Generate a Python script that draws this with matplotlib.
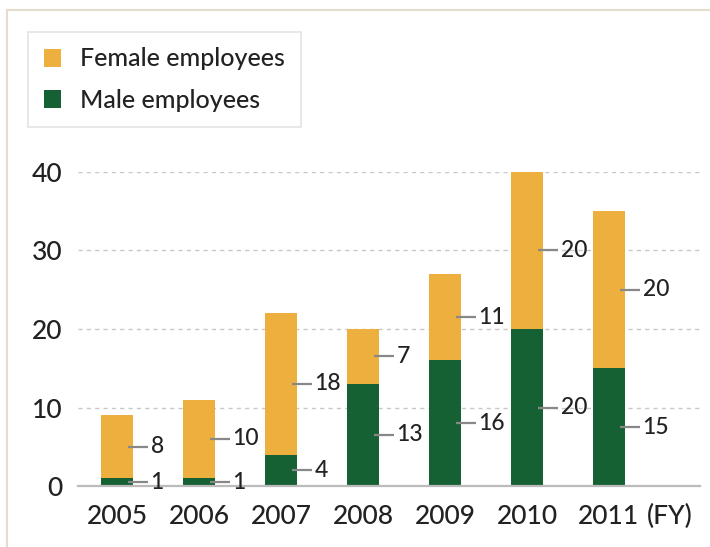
import matplotlib
matplotlib.use("Agg")
import matplotlib.pyplot as plt
from matplotlib.lines import Line2D
import numpy as np

plt.rcParams['font.family'] = ['Lato', 'DejaVu Sans']

years = ["2005", "2006", "2007", "2008", "2009", "2010", "2011"]
male = [1, 1, 4, 13, 16, 20, 15]
female = [8, 10, 18, 7, 11, 20, 20]
yticks = [0, 10, 20, 30, 40]

c_female = "#EDB03E"
c_male = "#156134"
txt = "#222222"
fw = 500

W, H = 710, 547
fig = plt.figure(figsize=(W / 100, H / 100), dpi=100)
ax = fig.add_axes([78 / W, 1 - 486 / H, (700 - 78) / W, (486 - 172) / H])

x = np.arange(len(years))
bw = 0.38
bm = ax.bar(x, male, bw, color=c_male, label="Male employees", zorder=3)
bf = ax.bar(x, female, bw, bottom=male, color=c_female, label="Female employees", zorder=3)

ax.set_xlim(-0.476, 7.11)
ax.set_ylim(0, 40)
for s in ax.spines.values():
    s.set_visible(False)
ax.axhline(0, color="#bbbbbb", lw=1.6, zorder=4, clip_on=False)
for yv in yticks[1:]:
    ax.axhline(yv, color="#c8c8c8", lw=1.0, ls=(0, (3, 3)), zorder=1)

ax.set_yticks(yticks)
ax.set_yticklabels([str(v) for v in yticks], fontsize=19, color=txt, fontweight=fw)
ax.set_xticks(x)
ax.set_xticklabels(years, fontsize=19, color=txt, fontweight=fw)
ax.tick_params(axis="both", length=0)
ax.tick_params(axis="y", pad=11)
ax.tick_params(axis="x", pad=13)
ax.annotate("(FY)", xy=(x[-1], 0), xycoords="data", xytext=(27, -13),
            textcoords="offset points", ha="left", va="top",
            fontsize=19, color=txt, fontweight=fw, annotation_clip=False)

# value labels with leader lines
for xi, m, f in zip(x, male, female):
    for val, yc in ((m, m / 2), (f, m + f / 2)):
        x0 = xi + bw / 2 - 0.06
        x1 = xi + bw / 2 + 0.19
        ax.plot([x0, x1], [yc, yc], color="#888888", lw=1.6, zorder=5,
                solid_capstyle="butt")
        ax.text(x1 + 0.03, yc, str(val), ha="left", va="center",
                fontsize=16.5, color=txt, fontweight=fw, zorder=5)

# legend
leg = fig.legend(handles=[bf, bm], labels=["Female employees", "Male employees"],
                 loc="upper left",
                 bbox_to_anchor=(28 / W, 1 - 128 / H, (301 - 28) / W, (128 - 32) / H),
                 mode="expand", prop={"size": 18, "weight": fw}, frameon=True,
                 fancybox=False, edgecolor="#dddddd", borderpad=0.62,
                 handlelength=0.7, handleheight=0.7, handletextpad=0.75,
                 labelspacing=0.73, borderaxespad=0)
leg.get_frame().set_linewidth(1.2)
for t in leg.get_texts():
    t.set_color(txt)

# figure frame lines (top and left)
fig.add_artist(Line2D([7 / W, 1], [1 - 10 / H, 1 - 10 / H], color="#e6dccb", lw=1.5,
                      transform=fig.transFigure))
fig.add_artist(Line2D([7 / W, 7 / W], [0, 1 - 10 / H], color="#e6dccb", lw=1.5,
                      transform=fig.transFigure))

fig.savefig("out.png", dpi=100)
